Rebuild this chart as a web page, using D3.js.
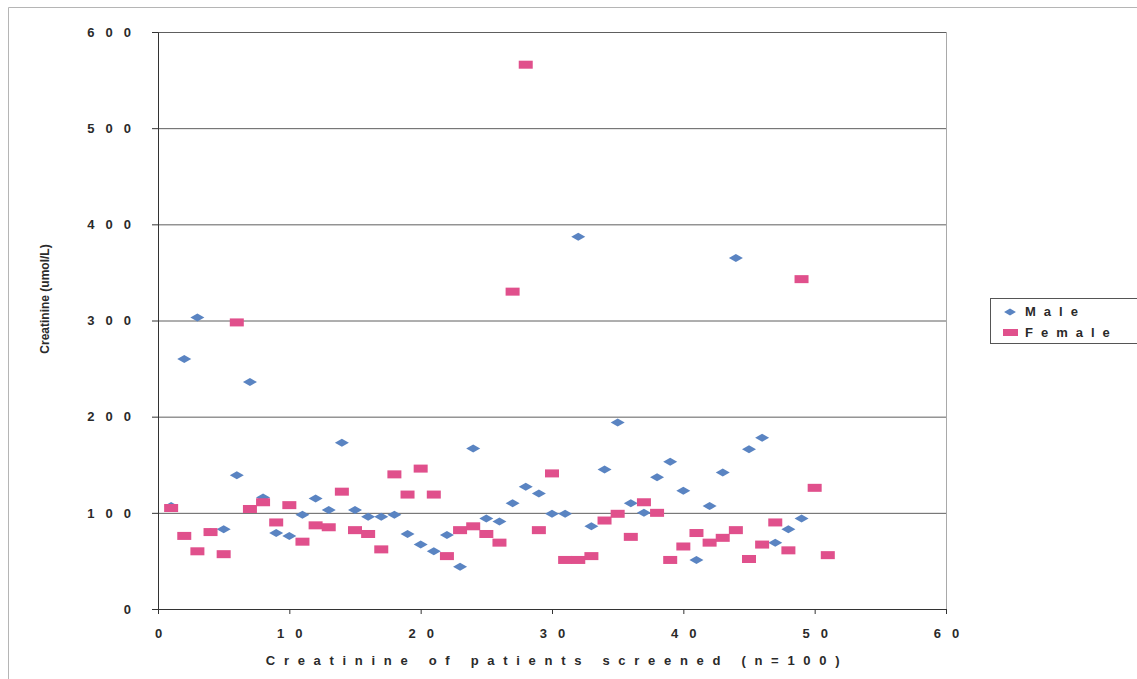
<!DOCTYPE html>
<html>
<head>
<meta charset="utf-8">
<script src="https://cdn.jsdelivr.net/npm/d3@7"></script>
<style>
  body { margin: 0; background: #fff; }
  text { font-family: "Liberation Sans", Arial, sans-serif; }
</style>
</head>
<body>
<div id="chart"></div>
<script>
//================================
// Data
var maleValues = [107, 260, 303, 80, 83, 139, 236, 116, 79, 76, 98, 115, 103, 173, 103,
                  96, 96, 98, 78, 67, 60, 77, 44, 167, 94, 91, 110, 127, 120, 99,
                  99, 387, 86, 145, 194, 110, 100, 137, 153, 123, 51, 107, 142, 365, 166,
                  178, 69, 83, 94];
var femaleValues = [105, 76, 60, 80, 57, 298, 104, 111, 90, 108, 70, 87, 85, 122, 82,
                    78, 62, 140, 119, 146, 119, 55, 82, 86, 78, 69, 330, 566, 82, 141,
                    51, 51, 55, 92, 99, 75, 111, 100, 51, 65, 79, 69, 74, 82, 52,
                    67, 90, 61, 343, 126, 56];
var seriesNames = ["Male", "Female"];
var xTicks = [0, 10, 20, 30, 40, 50, 60];
var yTicks = [0, 100, 200, 300, 400, 500, 600];
var xTitle = "Creatinine of patients screened (n=100)";
var yTitle = "Creatinine (umol/L)";

//================================
// Layout
var W = 1137, H = 679,
    plotLeft = 158, plotRight = 946, plotTop = 32, plotBottom = 609,
    blue = "#5a84c2", pink = "#e0508c", ink = "#2a2a2a";

var svg = d3.select('#chart').append('svg')
    .attr('width', W).attr('height', H);

// outer frame (only top and left edges are in view)
svg.append('path')
  .attr('d', 'M8.5,' + (H + 1) + 'V7.5H' + (W + 1))
  .attr('fill', 'none').attr('stroke', '#b5b5b5').attr('stroke-width', 1);

var x = d3.scaleLinear().domain([0, 60]).range([plotLeft, plotRight]);
var y = d3.scaleLinear().domain([0, 600]).range([plotBottom, plotTop]);

// gridlines
svg.append('g')
  .attr('transform', 'translate(' + plotLeft + ',0)')
  .call(d3.axisLeft(y).tickValues(yTicks).tickSize(-(plotRight - plotLeft)).tickFormat(''))
  .call(function(g) {
    g.select('.domain').remove();
    g.selectAll('line').attr('stroke', '#5e5e5e').attr('stroke-width', 1);
  });

// right plot border
svg.append('line')
  .attr('x1', plotRight + 0.5).attr('x2', plotRight + 0.5)
  .attr('y1', plotTop).attr('y2', plotBottom)
  .attr('stroke', '#a9a9a9');

// y axis
svg.append('g')
  .attr('transform', 'translate(' + plotLeft + ',0)')
  .call(d3.axisLeft(y).tickValues(yTicks).tickSize(6).tickPadding(14).tickSizeOuter(0))
  .call(function(g) {
    g.select('.domain').attr('stroke', '#333');
    g.selectAll('line').attr('stroke', '#333');
    g.selectAll('text')
      .attr('fill', ink)
      .style('font-size', '13px').style('font-weight', 'bold')
      .style('letter-spacing', '11px')
      .attr('dx', 4);
  });

// x axis
svg.append('g')
  .attr('transform', 'translate(0,' + plotBottom + ')')
  .call(d3.axisBottom(x).tickValues(xTicks).tickSize(5).tickPadding(15).tickSizeOuter(0))
  .call(function(g) {
    g.select('.domain').attr('stroke', '#333');
    g.selectAll('line').attr('stroke', '#333');
    g.selectAll('text')
      .attr('fill', ink)
      .style('font-size', '13px').style('font-weight', 'bold')
      .style('letter-spacing', '11px')
      .attr('dx', 5.5);
  });

// axis titles
svg.append('text')
  .attr('x', 557).attr('y', 665)
  .attr('text-anchor', 'middle')
  .attr('fill', ink)
  .style('font-size', '13px').style('font-weight', 'bold')
  .style('letter-spacing', '8.7px')
  .text(xTitle);

svg.append('text')
  .attr('transform', 'translate(49,299) rotate(-90)')
  .attr('text-anchor', 'middle')
  .attr('fill', ink)
  .style('font-size', '12px').style('font-weight', 'bold')
  .text(yTitle);

//================================
// markers
var diamond = 'M-7,0L0,-4L7,0L0,4Z';

svg.append('g').selectAll('path')
  .data(maleValues)
  .enter().append('path')
  .attr('d', diamond)
  .attr('fill', blue)
  .attr('transform', function(d, i) { return 'translate(' + x(i + 1) + ',' + y(d) + ')'; });

svg.append('g').selectAll('rect')
  .data(femaleValues)
  .enter().append('rect')
  .attr('x', function(d, i) { return x(i + 1) - 7; })
  .attr('y', function(d) { return y(d) - 4; })
  .attr('width', 14).attr('height', 8)
  .attr('fill', pink);

//================================
// legend
var legend = svg.append('g').attr('transform', 'translate(990,298)');
legend.append('rect')
  .attr('x', 0.5).attr('y', 0.5).attr('width', 160).attr('height', 45)
  .attr('fill', '#fff').attr('stroke', '#555');

legend.append('path')
  .attr('d', diamond)
  .attr('transform', 'translate(20,14) scale(0.85)')
  .attr('fill', blue);
legend.append('rect')
  .attr('x', 13).attr('y', 31).attr('width', 15).attr('height', 7)
  .attr('fill', pink);

legend.selectAll('text.lbl')
  .data(seriesNames)
  .enter().append('text')
  .attr('class', 'lbl')
  .attr('x', 35)
  .attr('y', function(d, i) { return 18 + i * 21; })
  .attr('fill', ink)
  .style('font-size', '13px').style('font-weight', 'bold')
  .style('letter-spacing', '8px')
  .text(function(d) { return d; });
</script>
</body>
</html>
